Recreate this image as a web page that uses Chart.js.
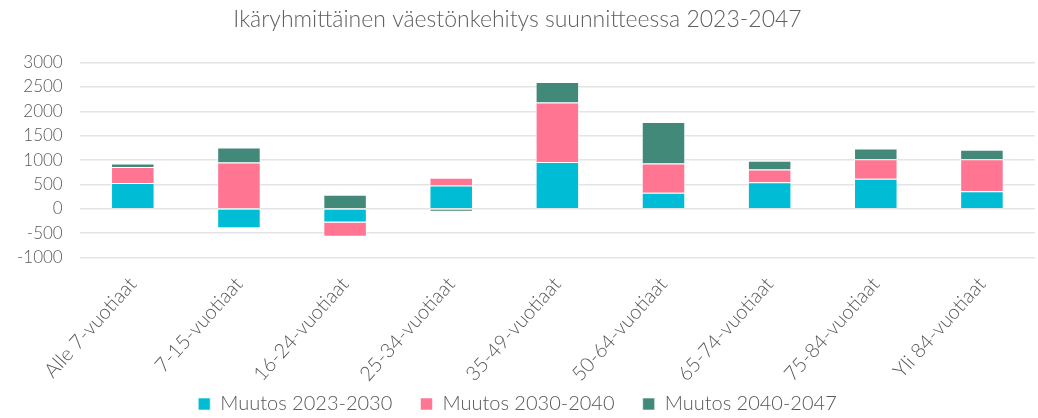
<!DOCTYPE html>
<html>
<head>
<meta charset="utf-8">
<script src="https://cdn.jsdelivr.net/npm/chart.js@4"></script>
<style>
  html, body { margin: 0; padding: 0; background: #fff; }
  #wrap { width: 1038px; height: 418px; }
</style>
</head>
<body>
<div id="wrap"><canvas id="chart"></canvas></div>
<script>
// kategoriat ja sarjat
const categories = ["Alle 7-vuotiaat", "7-15-vuotiaat", "16-24-vuotiaat", "25-34-vuotiaat", "35-49-vuotiaat", "50-64-vuotiaat", "65-74-vuotiaat", "75-84-vuotiaat", "Yli 84-vuotiaat"];
const muutos2023_2030 = [530, -400, -280, 480, 960, 330, 545, 620, 360];
const muutos2030_2040 = [330, 950, -290, 160, 1220, 600, 260, 400, 660];
const muutos2040_2047 = [70, 310, 290, -60, 420, 850, 180, 220, 190];
const yTicks = { min: -1000, max: 3000, step: 500 };

const FONT = "Lato, 'Open Sans', sans-serif";

new Chart(document.getElementById("chart"), {
    type: "bar",
    data: {
        labels: categories,
        datasets: [
            { label: "Muutos 2023-2030", data: muutos2023_2030, backgroundColor: "#00BCD4" },
            { label: "Muutos 2030-2040", data: muutos2030_2040, backgroundColor: "#FF7592" },
            { label: "Muutos 2040-2047", data: muutos2040_2047, backgroundColor: "#43897A" }
        ]
    },
    options: {
        responsive: true,
        maintainAspectRatio: false,
        animation: false,
        datasets: {
            bar: {
                barPercentage: 0.41,
                categoryPercentage: 1,
                borderColor: "rgba(255,255,255,0.6)",
                borderWidth: 1
            }
        },
        // selite vähän alemmas
        layout: { padding: { left: 0, right: 3, top: 0, bottom: -6 } },
        plugins: {
            title: {
                display: true,
                text: "Ikäryhmittäinen väestönkehitys suunnitteessa 2023-2047",
                color: "#5f5f5f",
                font: { family: FONT, size: 23, weight: "300" },
                padding: { top: 6, bottom: 29 }
            },
            legend: {
                position: "bottom",
                labels: {
                    color: "#595959",
                    font: { family: FONT, size: 20, weight: "300", lineHeight: 1 },
                    boxWidth: 12,
                    boxHeight: 12,
                    padding: 1,
                    // vähän lisää väliä selitteiden väliin
                    generateLabels: function (chart) {
                        const items = Chart.defaults.plugins.legend.labels.generateLabels(chart);
                        items.forEach((it, i) => {
                            if (i < items.length - 1) it.text = it.text + "     ";
                        });
                        return items;
                    }
                }
            },
            tooltip: { enabled: false }
        },
        scales: {
            x: {
                stacked: true,
                grid: { display: false },
                border: { display: false },
                ticks: {
                    color: "#595959",
                    font: { family: FONT, size: 20, weight: "300" },
                    maxRotation: 48,
                    minRotation: 48,
                    padding: 7
                }
            },
            y: {
                stacked: true,
                min: yTicks.min,
                max: yTicks.max,
                grid: { color: "#e4e4e4", lineWidth: 1.5, drawTicks: false },
                border: { display: false },
                ticks: {
                    stepSize: yTicks.step,
                    color: "#595959",
                    font: { family: FONT, size: 17, weight: "300" },
                    padding: 17,
                    callback: v => String(v)
                }
            }
        }
    }
});
</script>
</body>
</html>
